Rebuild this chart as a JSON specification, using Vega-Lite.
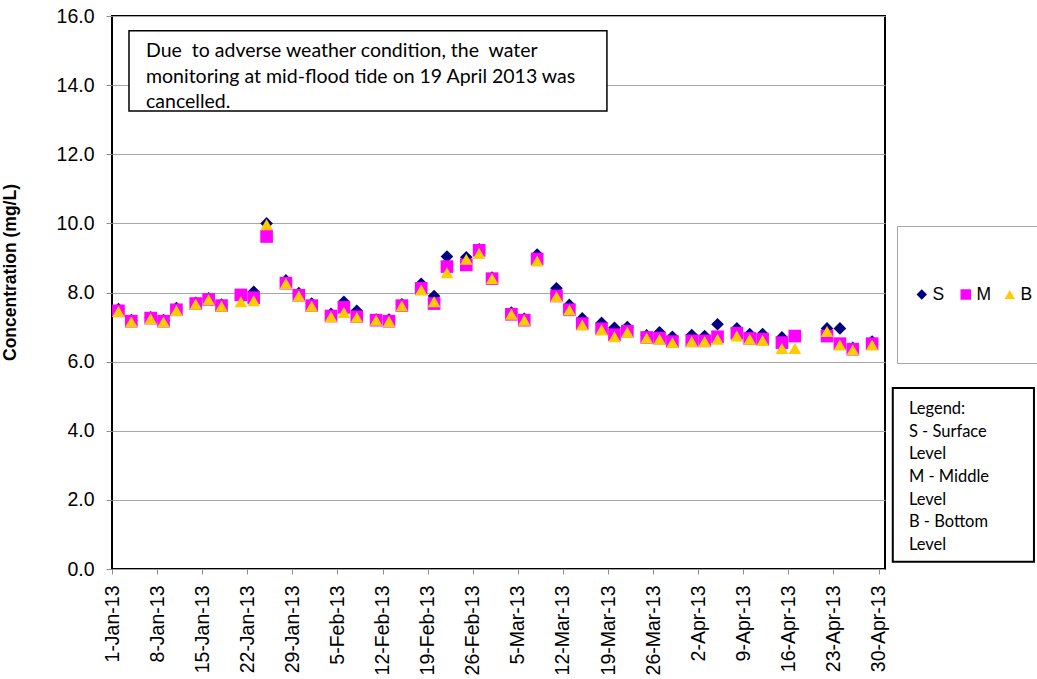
{
  "$schema": "https://vega.github.io/schema/vega-lite/v6.json",
  "width": 773,
  "height": 553,
  "autosize": "none",
  "padding": {"left": 112, "top": 16, "right": 152, "bottom": 110},
  "background": "white",
  "config": {"view": {"stroke": "black", "strokeWidth": 2}, "font": "Liberation Sans"},
  "datasets": {
    "obs": [
      {"date": "2013-01-02", "S": 7.52, "M": 7.47, "B": 7.45},
      {"date": "2013-01-04", "S": 7.2, "M": 7.17, "B": 7.15},
      {"date": "2013-01-07", "S": 7.28, "M": 7.26, "B": 7.24},
      {"date": "2013-01-09", "S": 7.2, "M": 7.17, "B": 7.15},
      {"date": "2013-01-11", "S": 7.55, "M": 7.5, "B": 7.48},
      {"date": "2013-01-14", "S": 7.7, "M": 7.68, "B": 7.66},
      {"date": "2013-01-16", "S": 7.83, "M": 7.8, "B": 7.79},
      {"date": "2013-01-18", "S": 7.65, "M": 7.62, "B": 7.6},
      {"date": "2013-01-21", "S": 7.85, "M": 7.93, "B": 7.73},
      {"date": "2013-01-23", "S": 8.02, "M": 7.85, "B": 7.76},
      {"date": "2013-01-25", "S": 10.0, "M": 9.62, "B": 9.97},
      {"date": "2013-01-28", "S": 8.35, "M": 8.27, "B": 8.26},
      {"date": "2013-01-30", "S": 7.98, "M": 7.92, "B": 7.9},
      {"date": "2013-02-01", "S": 7.68, "M": 7.62, "B": 7.6},
      {"date": "2013-02-04", "S": 7.38, "M": 7.32, "B": 7.3},
      {"date": "2013-02-06", "S": 7.73, "M": 7.57, "B": 7.42},
      {"date": "2013-02-08", "S": 7.47, "M": 7.3, "B": 7.28},
      {"date": "2013-02-11", "S": 7.22, "M": 7.2, "B": 7.2},
      {"date": "2013-02-13", "S": 7.22, "M": 7.17, "B": 7.16},
      {"date": "2013-02-15", "S": 7.66, "M": 7.62, "B": 7.61},
      {"date": "2013-02-18", "S": 8.25, "M": 8.12, "B": 8.07},
      {"date": "2013-02-20", "S": 7.9, "M": 7.68, "B": 7.73},
      {"date": "2013-02-22", "S": 9.04, "M": 8.75, "B": 8.57},
      {"date": "2013-02-25", "S": 9.02, "M": 8.8, "B": 8.96},
      {"date": "2013-02-27", "S": 9.25, "M": 9.22, "B": 9.13},
      {"date": "2013-03-01", "S": 8.43, "M": 8.4, "B": 8.4},
      {"date": "2013-03-04", "S": 7.42, "M": 7.37, "B": 7.37},
      {"date": "2013-03-06", "S": 7.24, "M": 7.2, "B": 7.2},
      {"date": "2013-03-08", "S": 9.1, "M": 8.97, "B": 8.91},
      {"date": "2013-03-11", "S": 8.12, "M": 7.9, "B": 7.88},
      {"date": "2013-03-13", "S": 7.64, "M": 7.5, "B": 7.49},
      {"date": "2013-03-15", "S": 7.25, "M": 7.1, "B": 7.06},
      {"date": "2013-03-18", "S": 7.12, "M": 6.95, "B": 6.92},
      {"date": "2013-03-20", "S": 6.98, "M": 6.78, "B": 6.72},
      {"date": "2013-03-22", "S": 7.0, "M": 6.88, "B": 6.85},
      {"date": "2013-03-25", "S": 6.76, "M": 6.7, "B": 6.68},
      {"date": "2013-03-27", "S": 6.85, "M": 6.68, "B": 6.65},
      {"date": "2013-03-29", "S": 6.72, "M": 6.58, "B": 6.55},
      {"date": "2013-04-01", "S": 6.77, "M": 6.6, "B": 6.58},
      {"date": "2013-04-03", "S": 6.74, "M": 6.6, "B": 6.58},
      {"date": "2013-04-05", "S": 7.08, "M": 6.72, "B": 6.65},
      {"date": "2013-04-08", "S": 6.96, "M": 6.82, "B": 6.74},
      {"date": "2013-04-10", "S": 6.8, "M": 6.67, "B": 6.65},
      {"date": "2013-04-12", "S": 6.8, "M": 6.65, "B": 6.61},
      {"date": "2013-04-15", "S": 6.7, "M": 6.55, "B": 6.38},
      {"date": "2013-04-17", "S": 6.74, "M": 6.74, "B": 6.38},
      {"date": "2013-04-22", "S": 6.96, "M": 6.74, "B": 6.87},
      {"date": "2013-04-24", "S": 6.96, "M": 6.52, "B": 6.48},
      {"date": "2013-04-26", "S": 6.4, "M": 6.36, "B": 6.34},
      {"date": "2013-04-29", "S": 6.58, "M": 6.52, "B": 6.48}
    ],
    "boxes": [
      {"x1": "2013-01-03T15:20:00Z", "x2": "2013-03-18T20:00:00Z", "y1": 13.25, "y2": 15.57, "w": 1.5},
      {"x1": "2013-05-02T05:00:00Z", "x2": "2013-05-24T03:00:00Z", "y1": 0.21, "y2": 5.24, "w": 2}
    ],
    "note1": [
      {"x": "2013-01-06T06:45:00Z", "y": 14.8, "t": "Due \u00a0to adverse weather condition, the \u00a0water\nmonitoring at mid-flood tide on 19 April 2013 was\ncancelled."}
    ],
    "note2": [
      {"x": "2013-05-04T17:00:00Z", "y": 4.476, "t": "Legend:\nS - Surface\nLevel\nM - Middle\nLevel\nB - Bottom\nLevel"}
    ]
  },
  "layer": [
    {
      "data": {"name": "obs"},
      "transform": [{"fold": ["S", "M", "B"], "as": ["level", "value"]}],
      "mark": {"type": "point", "filled": true, "opacity": 1, "size": 160, "strokeWidth": 0},
      "encoding": {
        "x": {
          "field": "date", "type": "temporal", "title": null,
          "scale": {"type": "utc", "domain": [{"year": 2013, "month": 1, "date": 1, "utc": true}, {"year": 2013, "month": 5, "date": 1, "utc": true}]},
          "axis": {
            "values": [
              {"year": 2013, "month": 1, "date": 1, "utc": true},
              {"year": 2013, "month": 1, "date": 8, "utc": true},
              {"year": 2013, "month": 1, "date": 15, "utc": true},
              {"year": 2013, "month": 1, "date": 22, "utc": true},
              {"year": 2013, "month": 1, "date": 29, "utc": true},
              {"year": 2013, "month": 2, "date": 5, "utc": true},
              {"year": 2013, "month": 2, "date": 12, "utc": true},
              {"year": 2013, "month": 2, "date": 19, "utc": true},
              {"year": 2013, "month": 2, "date": 26, "utc": true},
              {"year": 2013, "month": 3, "date": 5, "utc": true},
              {"year": 2013, "month": 3, "date": 12, "utc": true},
              {"year": 2013, "month": 3, "date": 19, "utc": true},
              {"year": 2013, "month": 3, "date": 26, "utc": true},
              {"year": 2013, "month": 4, "date": 2, "utc": true},
              {"year": 2013, "month": 4, "date": 9, "utc": true},
              {"year": 2013, "month": 4, "date": 16, "utc": true},
              {"year": 2013, "month": 4, "date": 23, "utc": true},
              {"year": 2013, "month": 4, "date": 30, "utc": true}
            ],
            "format": "%-d-%b-%y",
            "labelAngle": 270, "labelFont": "Liberation Sans", "labelFontSize": 19.5, "labelColor": "black",
            "labelPadding": 11, "tickSize": 5, "tickColor": "#8c8c8c", "domain": false, "grid": false,
            "labelOverlap": false, "labelFlush": false, "labelBound": false
          }
        },
        "y": {
          "field": "value", "type": "quantitative", "title": "Concentration (mg/L)",
          "scale": {"domain": [0, 16], "nice": false},
          "axis": {
            "values": [0, 2, 4, 6, 8, 10, 12, 14, 16], "format": ".1f",
            "labelFont": "Liberation Sans", "labelFontSize": 19.5, "labelColor": "black", "labelPadding": 12,
            "tickSize": 6, "tickColor": "#8c8c8c", "domain": false, "grid": true, "gridColor": "#a6a6a6", "gridWidth": 1,
            "titleFont": "Liberation Sans", "titleFontSize": 17.5, "titleFontWeight": "bold", "titleColor": "black",
            "titleX": -97, "titleY": 256, "titleAngle": 270, "titleBaseline": "alphabetic", "titleAlign": "center",
            "labelFlush": false
          }
        },
        "color": {
          "field": "level", "type": "nominal",
          "scale": {"domain": ["S", "M", "B"], "range": ["#000080", "#FF00FF", "#FFCC00"]},
          "legend": {
            "orient": "none", "legendX": 785, "legendY": 210, "direction": "horizontal", "title": null,
            "padding": 16, "strokeColor": "#a6a6a6", "fillColor": "white", "clipHeight": 105, "gridAlign": "all",
            "symbolSize": 110, "symbolStrokeWidth": 0, "symbolOpacity": 1,
            "labelFont": "Liberation Sans", "labelFontSize": 17.5, "labelColor": "black", "labelOffset": 2, "columnPadding": 9
          }
        },
        "shape": {
          "field": "level", "type": "nominal",
          "scale": {"domain": ["S", "M", "B"], "range": ["diamond", "square", "triangle-up"]}
        },
        "order": {"field": "level", "sort": "descending"}
      }
    },
    {
      "data": {"name": "boxes"},
      "mark": {"type": "rect", "fill": "white", "stroke": "black"},
      "encoding": {
        "x": {"field": "x1", "type": "temporal", "title": null},
        "x2": {"field": "x2"},
        "y": {"field": "y1", "type": "quantitative", "title": "Concentration (mg/L)"},
        "y2": {"field": "y2"},
        "strokeWidth": {"field": "w", "type": "quantitative", "scale": null}
      }
    },
    {
      "data": {"name": "note1"},
      "mark": {"type": "text", "align": "left", "baseline": "alphabetic", "lineBreak": "\n", "lineHeight": 25.5, "font": "Lato", "fontSize": 19.5, "color": "black"},
      "encoding": {
        "x": {"field": "x", "type": "temporal", "title": null},
        "y": {"field": "y", "type": "quantitative", "title": "Concentration (mg/L)"},
        "text": {"field": "t"}
      }
    },
    {
      "data": {"name": "note2"},
      "mark": {"type": "text", "align": "left", "baseline": "alphabetic", "lineBreak": "\n", "lineHeight": 22.6, "font": "Lato", "fontSize": 16.5, "color": "black"},
      "encoding": {
        "x": {"field": "x", "type": "temporal", "title": null},
        "y": {"field": "y", "type": "quantitative", "title": "Concentration (mg/L)"},
        "text": {"field": "t"}
      }
    }
  ]
}
